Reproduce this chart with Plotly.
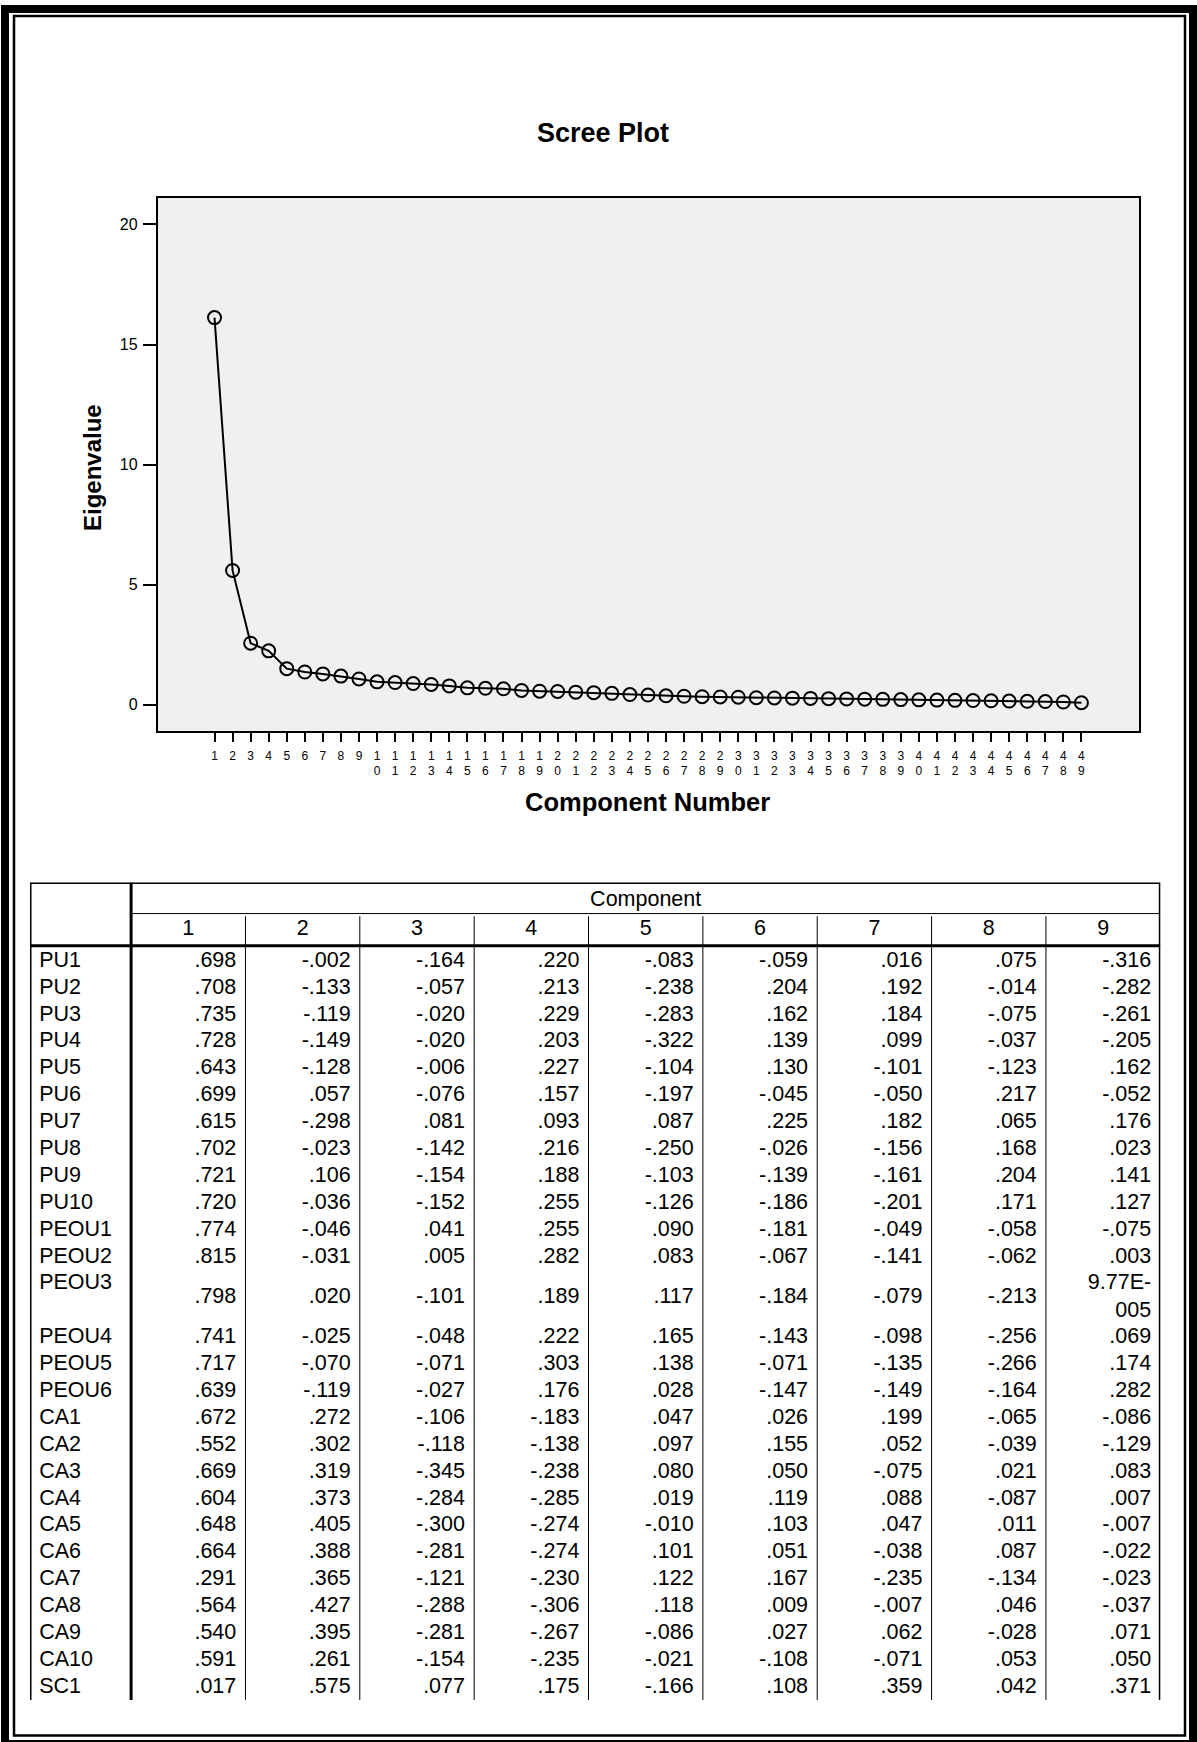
import plotly.graph_objects as go

# ---------------- data ----------------
components = list(range(1, 50))
eigenvalues = [16.12, 5.59, 2.56, 2.24, 1.50, 1.36, 1.28, 1.19, 1.07, 0.95,
               0.92, 0.88, 0.84, 0.78, 0.70, 0.68, 0.66, 0.59, 0.56, 0.55,
               0.52, 0.50, 0.47, 0.42, 0.40, 0.37, 0.35, 0.33, 0.32, 0.31,
               0.29, 0.28, 0.27, 0.26, 0.25, 0.24, 0.23, 0.22, 0.21, 0.20,
               0.19, 0.18, 0.17, 0.16, 0.15, 0.14, 0.13, 0.11, 0.08]
y_ticks = [0, 5, 10, 15, 20]

variables = ["PU1", "PU2", "PU3", "PU4", "PU5", "PU6", "PU7", "PU8", "PU9", "PU10",
             "PEOU1", "PEOU2", "PEOU3", "PEOU4", "PEOU5", "PEOU6",
             "CA1", "CA2", "CA3", "CA4", "CA5", "CA6", "CA7", "CA8", "CA9", "CA10",
             "SC1"]
component_labels = ["1", "2", "3", "4", "5", "6", "7", "8", "9"]

comp1 = [.698, .708, .735, .728, .643, .699, .615, .702, .721, .720,
         .774, .815, .798, .741, .717, .639,
         .672, .552, .669, .604, .648, .664, .291, .564, .540, .591, .017]
comp2 = [-.002, -.133, -.119, -.149, -.128, .057, -.298, -.023, .106, -.036,
         -.046, -.031, .020, -.025, -.070, -.119,
         .272, .302, .319, .373, .405, .388, .365, .427, .395, .261, .575]
comp3 = [-.164, -.057, -.020, -.020, -.006, -.076, .081, -.142, -.154, -.152,
         .041, .005, -.101, -.048, -.071, -.027,
         -.106, -.118, -.345, -.284, -.300, -.281, -.121, -.288, -.281, -.154, .077]
comp4 = [.220, .213, .229, .203, .227, .157, .093, .216, .188, .255,
         .255, .282, .189, .222, .303, .176,
         -.183, -.138, -.238, -.285, -.274, -.274, -.230, -.306, -.267, -.235, .175]
comp5 = [-.083, -.238, -.283, -.322, -.104, -.197, .087, -.250, -.103, -.126,
         .090, .083, .117, .165, .138, .028,
         .047, .097, .080, .019, -.010, .101, .122, .118, -.086, -.021, -.166]
comp6 = [-.059, .204, .162, .139, .130, -.045, .225, -.026, -.139, -.186,
         -.181, -.067, -.184, -.143, -.071, -.147,
         .026, .155, .050, .119, .103, .051, .167, .009, .027, -.108, .108]
comp7 = [.016, .192, .184, .099, -.101, -.050, .182, -.156, -.161, -.201,
         -.049, -.141, -.079, -.098, -.135, -.149,
         .199, .052, -.075, .088, .047, -.038, -.235, -.007, .062, -.071, .359]
comp8 = [.075, -.014, -.075, -.037, -.123, .217, .065, .168, .204, .171,
         -.058, -.062, -.213, -.256, -.266, -.164,
         -.065, -.039, .021, -.087, .011, .087, -.134, .046, -.028, .053, .042]
comp9 = [-.316, -.282, -.261, -.205, .162, -.052, .176, .023, .141, .127,
         -.075, .003, 9.77e-05, .069, .174, .282,
         -.086, -.129, .083, .007, -.007, -.022, -.023, -.037, .071, .050, .371]

loadings = [comp1, comp2, comp3, comp4, comp5, comp6, comp7, comp8, comp9]

# ---------------- helpers ----------------
FONT = "Liberation Sans, Arial, Helvetica, sans-serif"
W, H = 1197, 1742
TFONT = 21.5


def fmt(v):
    if v != 0 and abs(v) < 0.0005:
        mant, exp = f"{v:.2E}".split("E")
        e = int(exp)
        return f"{mant}E{'-' if e < 0 else '+'}<br>{abs(e):03d}"
    s = f"{v:.3f}"
    return s.replace("0.", ".", 1)


def py(p):
    return 1 - p / H


fig = go.Figure()

# ---------------- scree plot ----------------
fig.add_trace(go.Scatter(
    x=components, y=eigenvalues, mode="lines+markers",
    line=dict(color="black", width=2),
    marker=dict(symbol="circle-open", size=13, color="black", line=dict(width=2, color="black")),
    xaxis="x", yaxis="y", showlegend=False, hoverinfo="skip"))

x_ticktext = ["<br>".join(str(n)) for n in components]

# ---------------- table ----------------
slot_starts, slot_lines = [], []
s = 0
for i in range(len(variables)):
    n_lines = max(fmt(col[i]).count("<br>") + 1 for col in loadings)
    slot_starts.append(s)
    slot_lines.append(n_lines)
    s += n_lines
n_slots = s

lab_x, lab_y = [], []
for i, v in enumerate(variables):
    lab_x.append(-0.384 + 0.08)
    lab_y.append(slot_starts[i])
fig.add_trace(go.Scatter(
    x=lab_x, y=lab_y, text=variables, mode="text", textposition="middle right",
    textfont=dict(family=FONT, size=TFONT, color="black"),
    xaxis="x2", yaxis="y2", showlegend=False, hoverinfo="skip", cliponaxis=False))

val_x, val_y, val_t = [], [], []
for c, col in enumerate(loadings):
    for i, v in enumerate(col):
        val_x.append(c + 1 + 0.5 - 0.08)
        val_y.append(slot_starts[i] + (slot_lines[i] - 1) / 2)
        val_t.append(fmt(v))
fig.add_trace(go.Scatter(
    x=val_x, y=val_y, text=val_t, mode="text", textposition="middle left",
    textfont=dict(family=FONT, size=TFONT, color="black"),
    xaxis="x2", yaxis="y2", showlegend=False, hoverinfo="skip", cliponaxis=False))

hdr_x = [5] + list(range(1, 10))
hdr_y = [-2.28] + [-1.17] * 9
hdr_t = ["Component"] + component_labels
fig.add_trace(go.Scatter(
    x=hdr_x, y=hdr_y, text=hdr_t, mode="text", textposition="middle center",
    textfont=dict(family=FONT, size=TFONT, color="black"),
    xaxis="x2", yaxis="y2", showlegend=False, hoverinfo="skip", cliponaxis=False))

TOP, BOT, LEFT, RIGHT = -2.935, n_slots - 0.53, -0.384, 9.5
shapes = []


def tline(x0, y0, x1, y1, w):
    shapes.append(dict(type="line", xref="x2", yref="y2", x0=x0, y0=y0, x1=x1, y1=y1,
                       line=dict(color="black", width=w), layer="above"))


tline(LEFT, TOP, RIGHT, TOP, 3)
tline(LEFT, TOP, LEFT, BOT, 3)
tline(RIGHT, TOP, RIGHT, BOT, 3)
tline(0.5, TOP, 0.5, BOT, 3)
tline(0.5, -1.78, RIGHT, -1.78, 1)
tline(LEFT, -0.58, RIGHT, -0.58, 3)
for k in range(1, 9):
    tline(k + 0.5, -1.68, k + 0.5, BOT, 1)

# plot area background
shapes.append(dict(type="rect", xref="x domain", yref="y domain", x0=0, y0=0, x1=1, y1=1,
                   fillcolor="#F0F0F0", line=dict(width=0), layer="below"))

# page frame
shapes.append(dict(type="rect", xref="paper", yref="paper",
                   x0=5 / W, x1=1 - 4 / W, y0=py(1744), y1=py(9),
                   line=dict(color="black", width=8), fillcolor="rgba(0,0,0,0)"))
shapes.append(dict(type="rect", xref="paper", yref="paper",
                   x0=14 / W, x1=1 - 12 / W, y0=py(1735.5), y1=py(16),
                   line=dict(color="black", width=2.5), fillcolor="rgba(0,0,0,0)"))

annotations = [
    dict(text="<b>Scree Plot</b>", x=602.5 / W, y=py(133), xref="paper", yref="paper",
         showarrow=False, font=dict(family=FONT, size=27, color="black"),
         xanchor="center", yanchor="middle"),
    dict(text="<b>Component Number</b>", x=647 / W, y=py(802), xref="paper", yref="paper",
         showarrow=False, font=dict(family=FONT, size=25.5, color="black"),
         xanchor="center", yanchor="middle"),
    dict(text="<b>Eigenvalue</b>", x=92 / W, y=py(468), xref="paper", yref="paper",
         showarrow=False, font=dict(family=FONT, size=24, color="black"),
         xanchor="center", yanchor="middle", textangle=-90),
]

fig.update_layout(
    width=W, height=H, margin=dict(l=0, r=0, t=0, b=0),
    paper_bgcolor="white", plot_bgcolor="white",
    font=dict(family=FONT, color="black"),
    showlegend=False,
    shapes=shapes, annotations=annotations,
    xaxis=dict(domain=[157.8 / W, 1139.2 / W], range=[-2.14, 52.2],
               tickmode="array", tickvals=components, ticktext=x_ticktext,
               ticks="outside", ticklen=9, tickwidth=2, tickcolor="black",
               ticklabelstandoff=3,
               tickfont=dict(family=FONT, size=12, color="black"),
               showline=True, mirror=True, linewidth=2, linecolor="black",
               showgrid=False, zeroline=False, fixedrange=True, anchor="y"),
    yaxis=dict(domain=[py(731.3), py(197.8)], range=[-1.11, 21.11],
               tickmode="array", tickvals=y_ticks, ticktext=[str(t) for t in y_ticks],
               ticks="outside", ticklen=13, tickwidth=2, tickcolor="black",
               ticklabelstandoff=2,
               tickfont=dict(family=FONT, size=16, color="black"),
               showline=True, mirror=True, linewidth=2, linecolor="black",
               showgrid=False, zeroline=False, fixedrange=True, anchor="x"),
    xaxis2=dict(domain=[30 / W, 1160.3 / W], range=[LEFT, RIGHT], visible=False,
                fixedrange=True, anchor="y2"),
    yaxis2=dict(domain=[py(1700), py(882.5)], range=[BOT, TOP], visible=False,
                fixedrange=True, anchor="x2"),
)

fig.write_html(
    "out.html",
    config={"displayModeBar": False},
    post_script="document.body.style.margin='0';document.body.style.padding='0';"
                "document.documentElement.style.overflow='hidden';",
)
